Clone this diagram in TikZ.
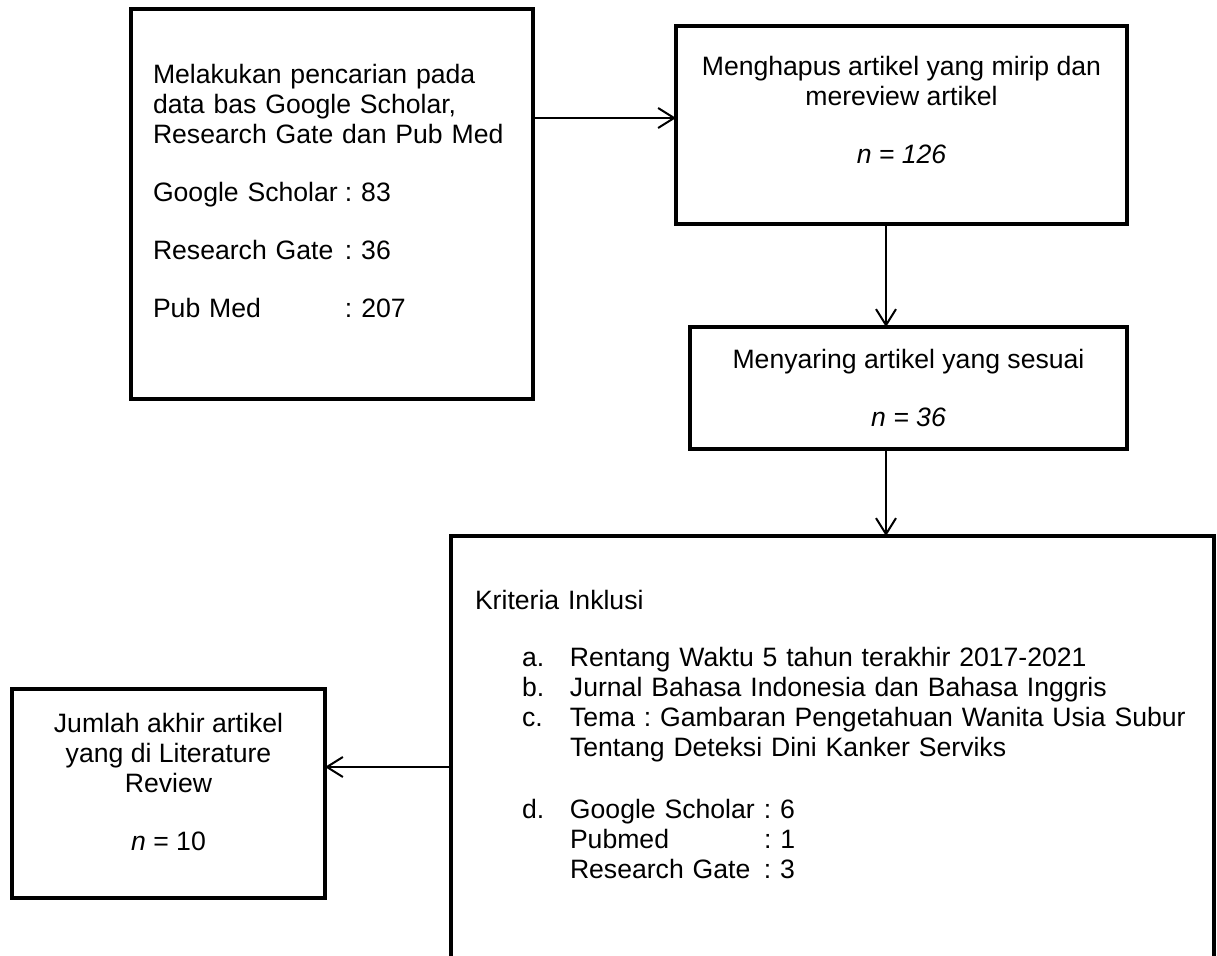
\documentclass[tikz,border=0pt]{standalone}
\usepackage{fontspec}
\setmainfont{Liberation Sans}
\usetikzlibrary{arrows.meta, positioning}
\frenchspacing

\begin{document}
\begin{tikzpicture}[
    node distance=1cm and 1.5cm,
    stage/.style={rectangle, draw, line width=2.1pt, inner sep=0pt, outer sep=0pt, font=\fontsize{13.3}{15}\selectfont},
    listbox/.style={stage, align=left, inner xsep=11pt},
    centerbox/.style={stage, align=center},
    arrow/.style={-{Straight Barb[length=8pt,width=10pt]}, line width=1pt}
]

\path[use as bounding box, fill=white] (0,0) rectangle (608.5pt,-478pt);
\clip (0,0) rectangle (608.5pt,-478pt);

\node[listbox, anchor=north west, text width=179pt, minimum height=195pt] (search) at (65.5pt,-4.5pt)
    {Melakukan pencarian pada\\
     data bas Google Scholar,\\
     Research Gate dan Pub Med\\[14pt]
     \makebox[96pt][l]{Google Scholar}: 83\\[14pt]
     \makebox[96pt][l]{Research Gate}: 36\\[14pt]
     \makebox[96pt][l]{Pub Med}: 207\\[-2.2pt]
     \mbox{}};
\node[centerbox, minimum width=225.5pt, minimum height=99pt, right=71.5pt of search.north east, anchor=north west, yshift=-8.5pt] (dedup)
    {Menghapus artikel yang mirip dan\\ mereview artikel\\[14pt] \textit{n = 126}\\[0pt] \mbox{}};
\node[centerbox, minimum width=218.5pt, minimum height=61pt, below=51.5pt of dedup.south east, anchor=north east] (screen)
    {Menyaring artikel yang sesuai\\[14pt] \textit{n = 36}};
\node[listbox, inner xsep=12pt, inner ysep=27pt, text width=357.5pt, below=43.5pt of screen.south east, anchor=north east, xshift=43.5pt] (criteria)
    {Kriteria Inklusi\\[13.5pt]
     \hspace*{23.5pt}\makebox[24pt][l]{a.}Rentang Waktu 5 tahun terakhir 2017-2021\\
     \hspace*{23.5pt}\makebox[24pt][l]{b.}Jurnal Bahasa Indonesia dan Bahasa Inggris\\
     \hspace*{23.5pt}\makebox[24pt][l]{c.}Tema : Gambaran Pengetahuan Wanita Usia Subur\\
     \hspace*{47.5pt}Tentang Deteksi Dini Kanker Serviks\\[16pt]
     \hspace*{23.5pt}\makebox[24pt][l]{d.}\makebox[97pt][l]{Google Scholar}: 6\\
     \hspace*{47.5pt}\makebox[97pt][l]{Pubmed}: 1\\
     \hspace*{47.5pt}\makebox[97pt][l]{Research Gate}: 3\\[60pt]
     \mbox{}};
\node[centerbox, minimum width=156.5pt, minimum height=104.5pt, left=63pt of criteria.north west, anchor=north east, yshift=-76.5pt] (final)
    {Jumlah akhir artikel\\ yang di Literature\\ Review\\[14pt] \textit{n} = 10\\[-3.5pt] \mbox{}};

% connectors
\coordinate (searchout) at ([yshift=43pt]search.east);
\coordinate (dedupout) at ([xshift=-7.75pt]dedup.south);
\coordinate (screenout) at ([xshift=-11.25pt]screen.south);
\coordinate (finalin) at ([yshift=13.25pt]final.east);

\draw[arrow] (searchout) -- (searchout -| dedup.west);
\draw[arrow] (dedupout) -- (dedupout |- screen.north);
\draw[arrow] (screenout) -- (screenout |- criteria.north);
\draw[arrow] (finalin -| criteria.west) -- (finalin);

\end{tikzpicture}
\end{document}
